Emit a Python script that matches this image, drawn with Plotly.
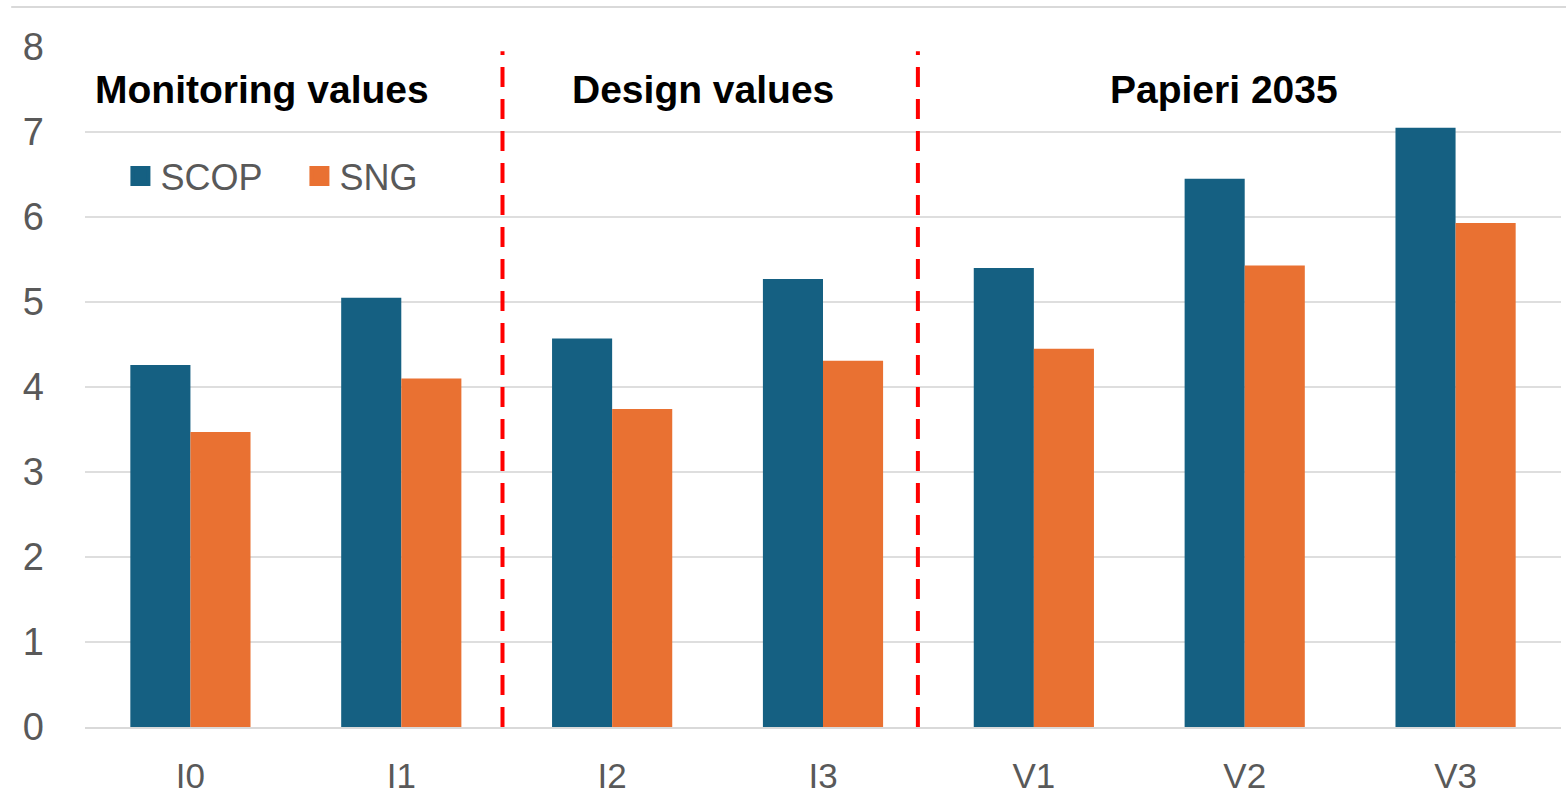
import plotly.graph_objects as go

categories = ["I0", "I1", "I2", "I3", "V1", "V2", "V3"]
scop = [4.26, 5.05, 4.57, 5.27, 5.40, 6.45, 7.05]
sng = [3.47, 4.10, 3.74, 4.31, 4.45, 5.43, 5.93]
y_ticks = [0, 1, 2, 3, 4, 5, 6, 7, 8]
group_labels = ["Monitoring values", "Design values", "Papieri 2035"]
group_centers = [0.34, 2.43, 4.9]
divider_positions = [1.48, 3.45]

BLUE = "#156082"
ORANGE = "#E97132"
Y_TICK_FONT = dict(family="Liberation Sans, Arial", size=38, color="#595959")
X_TICK_FONT = dict(family="Liberation Sans, Arial", size=35, color="#595959")

fig = go.Figure()
fig.add_trace(go.Bar(name="SCOP", x=categories, y=scop, marker=dict(color=BLUE, line=dict(width=0)),
                     showlegend=False, legendgroup="scop"))
fig.add_trace(go.Bar(name="SNG", x=categories, y=sng, marker=dict(color=ORANGE, line=dict(width=0)),
                     showlegend=False, legendgroup="sng"))
# legend entries with larger square symbols
for name, col, grp in [("SCOP", BLUE, "scop"), ("SNG", ORANGE, "sng")]:
    fig.add_trace(go.Scatter(name=name, x=[None], y=[None], mode="markers", legendgroup=grp,
                             marker=dict(symbol="square", size=16, color=col, line=dict(color=col, width=4)),
                             showlegend=True, hoverinfo="skip"))

for xp in divider_positions:
    fig.add_shape(type="line", xref="x", yref="y", x0=xp, x1=xp, y0=0, y1=7.95,
                  line=dict(color="#FF0000", width=4, dash="20px,12px"), layer="above")

for label, cx in zip(group_labels, group_centers):
    fig.add_annotation(x=cx, y=7.5, xref="x", yref="y", text=f"<b>{label}</b>", showarrow=False,
                       font=dict(family="Liberation Sans, Arial", size=39, color="#000000"),
                       xanchor="center", yanchor="middle")

# thin grey frame line at very top (cropped chart edge)
fig.add_shape(type="line", xref="paper", yref="paper", x0=-0.05, x1=1.01, y0=1.059, y1=1.059,
              line=dict(color="#d9d9d9", width=2))

fig.update_layout(
    width=1566, height=801,
    margin=dict(l=85, r=5, t=47, b=74, autoexpand=False),
    paper_bgcolor="white", plot_bgcolor="white",
    barmode="group", bargap=0.43, bargroupgap=0,
    showlegend=True,
    legend=dict(orientation="h", x=0.024, y=0.81, xanchor="left", yanchor="middle",
                font=dict(family="Liberation Sans, Arial", size=36, color="#595959"),
                bgcolor="rgba(0,0,0,0)", itemwidth=30, entrywidth=134, traceorder="normal",
                itemsizing="trace"),
    xaxis=dict(type="category", categoryorder="array", categoryarray=categories,
               showgrid=False, showline=True, linecolor="#d9d9d9", linewidth=2, automargin=False,
               ticks="", tickfont=X_TICK_FONT, ticklabelstandoff=17, range=[-0.5, 6.5]),
    yaxis=dict(range=[0, 8], tickvals=y_ticks, showgrid=True, gridcolor="#dedede", gridwidth=2,
               automargin=False,
               zeroline=False, showline=False, ticks="", tickfont=Y_TICK_FONT, ticklabelstandoff=40),
)

fig.write_html("out.html")
